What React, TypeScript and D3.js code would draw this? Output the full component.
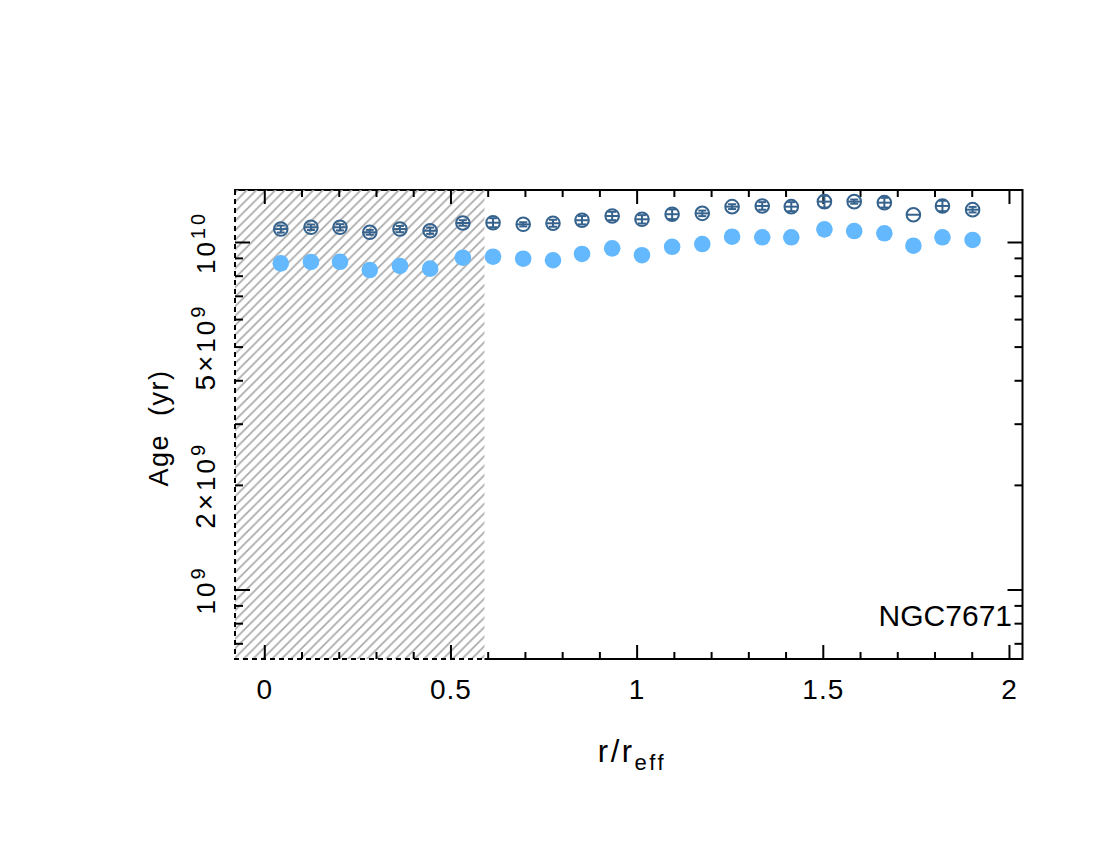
import React, { useEffect, useRef } from 'react';
import * as d3 from 'd3';

// radius in units of r_eff
const radius = [0.043, 0.124, 0.202, 0.282, 0.363, 0.444, 0.532, 0.613, 0.694, 0.774, 0.852, 0.933,
  1.013, 1.094, 1.175, 1.255, 1.336, 1.414, 1.503, 1.583, 1.664, 1.742, 1.820, 1.901];

// open markers (with error bars)
const ageOpen = [1.093e10, 1.106e10, 1.106e10, 1.070e10, 1.093e10, 1.081e10, 1.138e10, 1.140e10,
  1.128e10, 1.136e10, 1.159e10, 1.192e10, 1.166e10, 1.206e10, 1.213e10, 1.268e10, 1.274e10,
  1.268e10, 1.311e10, 1.311e10, 1.302e10, 1.202e10, 1.274e10, 1.243e10];
// error in dex
const ageOpenErr = [0.010, 0.008, 0.009, 0.007, 0.009, 0.009, 0.008, 0.013, 0.006, 0.010, 0.012, 0.012,
  0.012, 0.014, 0.008, 0.007, 0.011, 0.013, 0.017, 0.006, 0.014, 0, 0.015, 0.008];

// filled markers
const ageFilled = [8.71e9, 8.79e9, 8.80e9, 8.33e9, 8.56e9, 8.41e9, 9.04e9, 9.10e9, 8.98e9, 8.89e9,
  9.27e9, 9.62e9, 9.19e9, 9.72e9, 9.90e9, 1.039e10, 1.035e10, 1.035e10, 1.091e10, 1.079e10,
  1.063e10, 9.79e9, 1.035e10, 1.017e10];

const xMajor = [0, 0.5, 1, 1.5, 2];
const xMinor = [0.1, 0.2, 0.3, 0.4, 0.6, 0.7, 0.8, 0.9, 1.1, 1.2, 1.3, 1.4, 1.6, 1.7, 1.8, 1.9];
const yMajor = [1e9, 1e10];
const yMinor = [7e8, 8e8, 9e8, 2e9, 3e9, 4e9, 5e9, 6e9, 7e9, 8e9, 9e9];
const yLabels = [
  { v: 1e9, pre: '', base: '10', sup: '9' },
  { v: 2e9, pre: '2×', base: '10', sup: '9' },
  { v: 5e9, pre: '5×', base: '10', sup: '9' },
  { v: 1e10, pre: '', base: '10', sup: '10' },
];
const maskedUpTo = 0.59;
const galaxy = 'NGC7671';

const FONT = '"Liberation Sans", Arial, sans-serif';
const OPEN_COLOR = '#36638e';
const FILL_COLOR = '#64b8fd';

export default function App() {
  const ref = useRef<SVGSVGElement>(null);

  useEffect(() => {
    const svg = d3.select(ref.current);
    svg.selectAll('*').remove();

    const left = 235, right = 1022.5, top = 190, bottom = 659;
    const x = d3.scaleLinear().domain([-0.08, 2.035]).range([left, right]);
    const y = d3.scaleLog().domain([6.33e8, 1.416e10]).range([bottom, top]);

    // hatch pattern
    const defs = svg.append('defs');
    const pat = defs.append('pattern')
      .attr('id', 'hatch')
      .attr('patternUnits', 'userSpaceOnUse')
      .attr('width', 9.5).attr('height', 9.5);
    pat.append('path')
      .attr('d', 'M-1,1 l2,-2 M0,9.5 l9.5,-9.5 M8.5,10.5 l2,-2')
      .attr('stroke', '#a9a9a9')
      .attr('stroke-width', 1.7);

    // frame
    svg.append('rect')
      .attr('x', left).attr('y', top)
      .attr('width', right - left).attr('height', bottom - top)
      .attr('fill', 'none').attr('stroke', '#000').attr('stroke-width', 2);

    // masked region
    const mx = x(maskedUpTo);
    svg.append('rect')
      .attr('x', left - 1.5).attr('y', top + 1)
      .attr('width', mx - left + 1.5).attr('height', bottom - top + 0.5)
      .attr('fill', '#fff');
    svg.append('rect')
      .attr('x', left).attr('y', top)
      .attr('width', mx - left).attr('height', bottom - top)
      .attr('fill', 'url(#hatch)');
    svg.append('path')
      .attr('d', `M${left},${top} V${bottom} H${mx}`)
      .attr('fill', 'none').attr('stroke', '#000').attr('stroke-width', 2)
      .attr('stroke-dasharray', '5,4');

    // ticks
    const tk = svg.append('g').attr('stroke', '#000').attr('stroke-width', 2);
    const xt = (v: number, len: number) => {
      tk.append('line').attr('x1', x(v)).attr('x2', x(v)).attr('y1', bottom).attr('y2', bottom - len);
      tk.append('line').attr('x1', x(v)).attr('x2', x(v)).attr('y1', top).attr('y2', top + len);
    };
    const yt = (v: number, len: number) => {
      tk.append('line').attr('y1', y(v)).attr('y2', y(v)).attr('x1', left).attr('x2', left + len);
      tk.append('line').attr('y1', y(v)).attr('y2', y(v)).attr('x1', right).attr('x2', right - len);
    };
    xMajor.forEach(v => xt(v, 14));
    xMinor.forEach(v => xt(v, 7));
    yMajor.forEach(v => yt(v, 15));
    yMinor.forEach(v => yt(v, 8));

    // x tick labels
    svg.append('g').selectAll('text')
      .data(xMajor)
      .join('text')
      .attr('x', d => x(d))
      .attr('y', 699)
      .attr('text-anchor', 'middle')
      .attr('font-family', FONT)
      .attr('font-size', 28)
      .attr('letter-spacing', 1)
      .text(d => String(d));

    // y tick labels (rotated)
    yLabels.forEach(l => {
      const t = svg.append('text')
        .attr('transform', `translate(215,${y(l.v)}) rotate(-90)`)
        .attr('text-anchor', 'middle')
        .attr('font-family', FONT)
        .attr('font-size', 26)
        .attr('letter-spacing', 3);
      if (l.pre) t.append('tspan').attr('font-size', 28).text(l.pre);
      t.append('tspan').text(l.base);
      t.append('tspan').attr('dy', -10).attr('font-size', 20).text(l.sup);
    });

    // axis titles
    svg.append('text')
      .attr('transform', 'translate(168,428) rotate(-90)')
      .attr('text-anchor', 'middle')
      .attr('font-family', FONT)
      .attr('font-size', 27)
      .attr('letter-spacing', 1.5)
      .style('white-space', 'pre')
      .text('Age  (yr)');

    const xt2 = svg.append('text')
      .attr('x', 632).attr('y', 762)
      .attr('text-anchor', 'middle')
      .attr('font-family', FONT)
      .attr('font-size', 31)
      .attr('letter-spacing', 2.5);
    xt2.append('tspan').text('r/r');
    xt2.append('tspan').attr('dy', 8).attr('font-size', 22).text('eff');

    svg.append('text')
      .attr('x', 1012).attr('y', 626)
      .attr('text-anchor', 'end')
      .attr('font-family', FONT)
      .attr('font-size', 30)
      .text(galaxy);

    // filled markers
    svg.append('g').selectAll('circle')
      .data(radius)
      .join('circle')
      .attr('cx', d => x(d))
      .attr('cy', (d, i) => y(ageFilled[i]))
      .attr('r', 8.3)
      .attr('fill', FILL_COLOR);

    // open markers with error bars
    const og = svg.append('g')
      .attr('stroke', OPEN_COLOR).attr('stroke-width', 2).attr('fill', 'none');
    radius.forEach((r, i) => {
      const cx = x(r);
      const cy = y(ageOpen[i]);
      const e = ageOpenErr[i];
      og.append('circle').attr('cx', cx).attr('cy', cy).attr('r', 6.8);
      og.append('line').attr('x1', cx - 6.8).attr('x2', cx + 6.8).attr('y1', cy).attr('y2', cy);
      if (e > 0) {
        const yu = y(ageOpen[i] * Math.pow(10, e));
        const yl = y(ageOpen[i] / Math.pow(10, e));
        og.append('line').attr('x1', cx).attr('x2', cx).attr('y1', yu).attr('y2', yl);
        og.append('line').attr('x1', cx - 4).attr('x2', cx + 4).attr('y1', yu).attr('y2', yu);
        og.append('line').attr('x1', cx - 4).attr('x2', cx + 4).attr('y1', yl).attr('y2', yl);
      }
    });
  }, []);

  return (
    <div style={{ position: 'absolute', left: 0, top: 0 }}>
      <svg ref={ref} width={1100} height={850} style={{ display: 'block', background: '#fff' }} />
    </div>
  );
}
